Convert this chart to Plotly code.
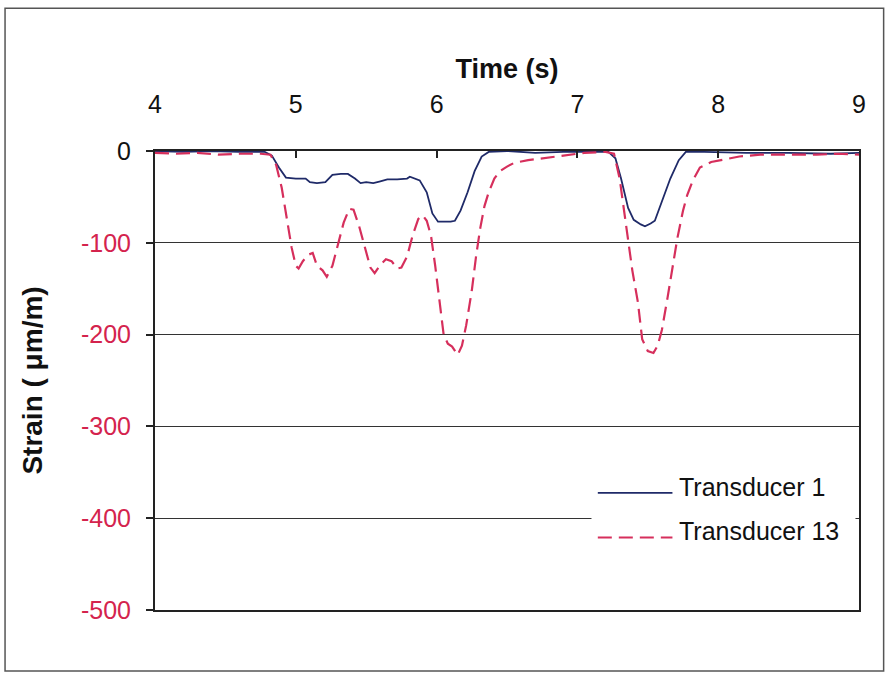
import plotly.graph_objects as go

# Strain time histories (seconds, micro-strain)
t1_time = [4.00, 4.20, 4.40, 4.60, 4.78, 4.83, 4.88, 4.93, 5.00, 5.07, 5.10, 5.15, 5.21,
           5.26, 5.32, 5.37, 5.42, 5.46, 5.50, 5.55, 5.60, 5.65, 5.72, 5.79, 5.81, 5.85,
           5.88, 5.93, 5.97, 6.01, 6.05, 6.10, 6.13, 6.17, 6.22, 6.27, 6.32, 6.37, 6.50,
           6.70, 6.90, 7.10, 7.22, 7.27, 7.31, 7.36, 7.40, 7.45, 7.48, 7.52, 7.55, 7.60,
           7.66, 7.72, 7.77, 7.90, 8.20, 8.50, 8.80, 9.00]
t1_strain = [0, -1, 0, -1, -1, -5, -18, -29, -30, -30, -34, -35, -34,
             -26, -25, -25, -30, -35, -34, -35, -33, -31, -31, -30, -28, -30,
             -32, -45, -68, -77, -77, -77, -76, -65, -45, -22, -6, -1, 0,
             -2, -1, -1, -1, -8, -30, -62, -75, -80, -82, -79, -76, -55,
             -30, -10, -1, -1, -2, -2, -3, -2]

t13_time = [4.00, 4.15, 4.30, 4.45, 4.60, 4.75, 4.82, 4.86, 4.90, 4.94, 4.97, 5.00, 5.02,
            5.05, 5.09, 5.12, 5.15, 5.19, 5.22, 5.26, 5.30, 5.34, 5.38, 5.41, 5.45, 5.49,
            5.53, 5.56, 5.60, 5.64, 5.68, 5.72, 5.75, 5.79, 5.83, 5.87, 5.90, 5.93, 5.96,
            5.99, 6.02, 6.05, 6.08, 6.11, 6.15, 6.18, 6.21, 6.25, 6.28, 6.31, 6.34, 6.37,
            6.41, 6.45, 6.50, 6.55, 6.65, 6.75, 6.85, 6.95, 7.05, 7.20, 7.26, 7.30, 7.35,
            7.39, 7.43, 7.46, 7.50, 7.54, 7.57, 7.60, 7.64, 7.67, 7.71, 7.75, 7.78, 7.82,
            7.87, 7.95, 8.05, 8.15, 8.30, 8.50, 8.70, 8.85, 9.00]
t13_strain = [-2, -3, -2, -4, -3, -3, -4, -15, -40, -75, -105, -125, -128,
              -120, -113, -111, -125, -130, -137, -125, -100, -78, -63, -64, -82, -105,
              -127, -133, -124, -118, -120, -128, -127, -115, -92, -74, -70, -76, -92,
              -125, -165, -200, -210, -213, -222, -212, -190, -152, -115, -84, -60, -45,
              -30, -22, -17, -13, -10, -8, -6, -4, -2, -1, -3, -30, -85,
              -130, -165, -205, -218, -220, -212, -195, -160, -130, -95, -65, -48, -32,
              -18, -12, -9, -6, -4, -4, -4, -3, -4]

x_ticks = [4, 5, 6, 7, 8, 9]
y_ticks = [0, -100, -200, -300, -400, -500]
series_names = ["Transducer 1", "Transducer 13"]

BLUE = "#1f2a68"
RED = "#d62f5c"
LABEL_RED = "#d4234d"
FONT = "Liberation Sans, Arial, sans-serif"
RED_DASH = "14px,7px"

fig = go.Figure()
fig.add_trace(go.Scatter(x=t1_time, y=t1_strain, mode="lines", name=series_names[0],
                         line=dict(color=BLUE, width=1.8), showlegend=False))
fig.add_trace(go.Scatter(x=t13_time, y=t13_strain, mode="lines", name=series_names[1],
                         line=dict(color=RED, width=2.2, dash=RED_DASH), showlegend=False))

y_text = [str(v) if v == 0 else f'<span style="color:{LABEL_RED}">{v}</span>' for v in y_ticks]

fig.update_layout(
    width=890, height=677,
    margin=dict(l=155, r=31, t=151, b=67),
    paper_bgcolor="white", plot_bgcolor="white",
    font=dict(family=FONT, size=25, color="#111"),
    xaxis=dict(
        range=[4, 9], side="top", tickvals=x_ticks,
        ticks="inside", ticklen=7, tickcolor="#222", tickwidth=1.5,
        showgrid=False, zeroline=False,
        showline=True, linecolor="#222", linewidth=2, mirror=True,
        ticklabelstandoff=26,
        title=dict(text="<b>Time (s)</b>", font=dict(size=27, family=FONT), standoff=4),
    ),
    yaxis=dict(
        range=[-500, 0], tickvals=y_ticks, ticktext=y_text,
        ticks="outside", ticklen=7, tickcolor="#222", tickwidth=1.5,
        ticklabelstandoff=10,
        showgrid=True, gridcolor="#333", gridwidth=1.3, zeroline=False,
        showline=True, linecolor="#222", linewidth=2, mirror=True,
        title=dict(text="<b>Strain ( μm/m)</b>", font=dict(size=28, family=FONT), standoff=30),
    ),
)

# Legend drawn as a white panel with line samples and labels
fig.add_shape(type="rect", xref="paper", yref="paper", x0=0.62, x1=0.995, y0=0.12, y1=0.305,
              fillcolor="white", line=dict(width=0), layer="above")
legend_rows = [(0.255, BLUE, "solid", 1.8), (0.158, RED, RED_DASH, 2.2)]
for (yy, col, dash, w), name in zip(legend_rows, series_names):
    fig.add_shape(type="line", xref="paper", yref="paper", x0=0.629, x1=0.735, y0=yy, y1=yy,
                  line=dict(color=col, dash=dash, width=w), layer="above")
    fig.add_annotation(xref="paper", yref="paper", x=0.742, y=yy + 0.014, text=name,
                       showarrow=False, xanchor="left", yanchor="middle",
                       font=dict(family=FONT, size=25, color="#111"))

# Outer chart frame
fig.add_shape(type="rect", xref="paper", yref="paper", x0=-0.213, x1=1.035, y0=-0.133, y1=1.311,
              line=dict(color="#555", width=1.5), fillcolor="rgba(0,0,0,0)", layer="above")

fig.write_html("out.html")
